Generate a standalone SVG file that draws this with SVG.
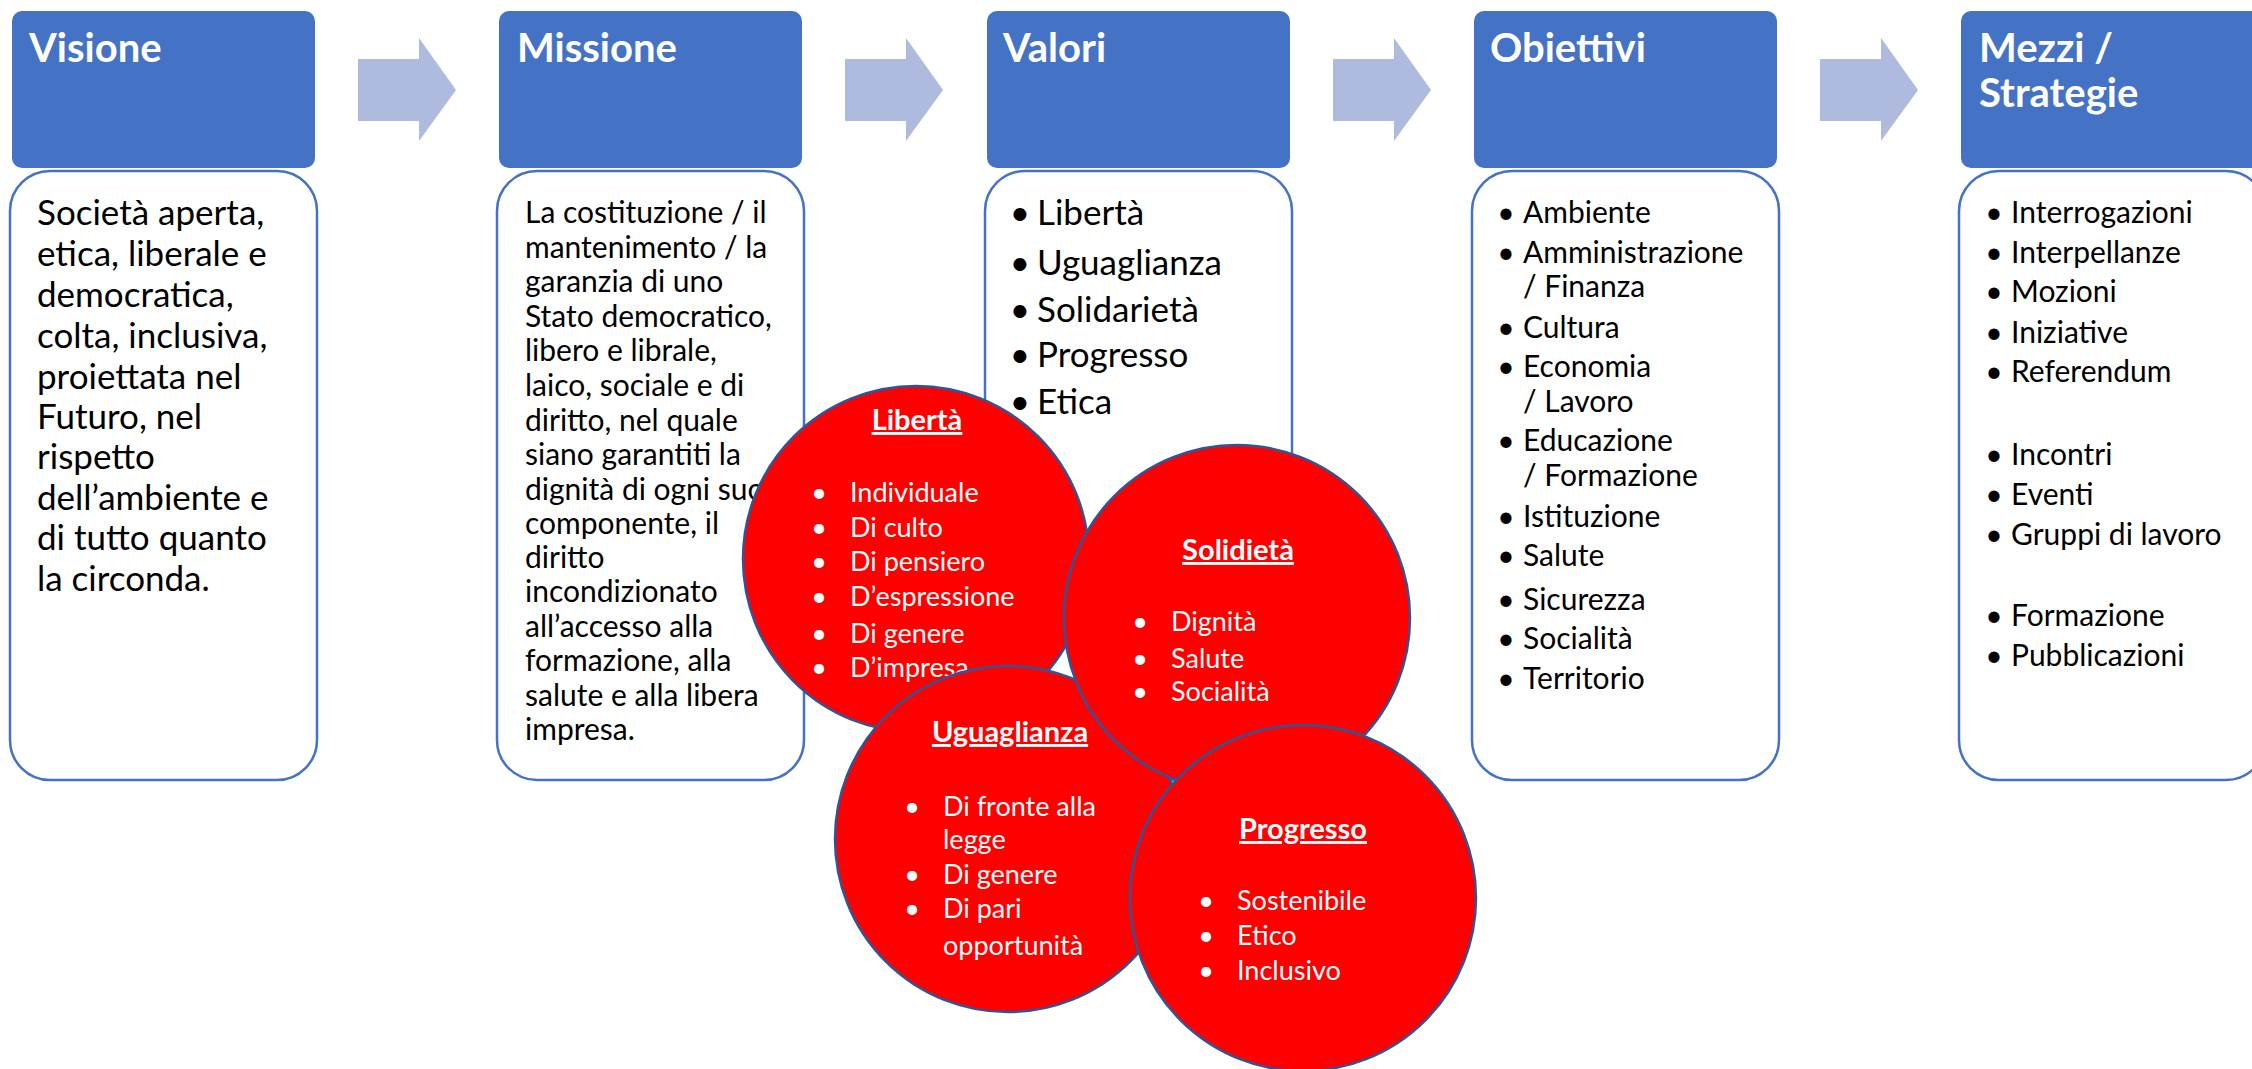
<svg xmlns="http://www.w3.org/2000/svg" width="2252" height="1069" viewBox="0 0 2252 1069">
<style>
text{font-family:Lato,"Open Sans","Liberation Sans",sans-serif}
.hdr{fill:#4472C4}
.body{fill:#fff;stroke:#4472C4;stroke-width:2.5}
.ttl{font-weight:bold;font-size:40px;fill:#fff}
.tv{font-size:35px;fill:#000}
.tm{font-size:30px;fill:#000}
.tb{font-size:35px;fill:#000}
.to{font-size:30px;fill:#000}
.bul{text-anchor:middle}
.arr{fill:#AEBADE}
.circ{fill:#FF0000;stroke:#2F5597;stroke-width:2.5}
.ch{font-weight:bold;font-size:29px;fill:#fff;text-anchor:middle;text-decoration:underline}
.cl{font-size:27px;fill:#fff}
</style>
<defs>
<path id="arrowShape" d="M0,0 H61 V-21 L98,31 L61,82 V62 H0 Z"/>
</defs>

<g id="visione">
<rect class="hdr" x="12" y="11" width="303" height="157" rx="10"/>
<text class="ttl" x="29" y="62">Visione</text>
<rect class="body" x="10" y="171" width="307" height="609" rx="40"/>
<g class="tv">
<text x="37" y="225">Società aperta,</text>
<text x="37" y="266">etica, liberale e</text>
<text x="37" y="307">democratica,</text>
<text x="37" y="348">colta, inclusiva,</text>
<text x="37" y="389">proiettata nel</text>
<text x="37" y="429">Futuro, nel</text>
<text x="37" y="469">rispetto</text>
<text x="37" y="510">dell’ambiente e</text>
<text x="37" y="550">di tutto quanto</text>
<text x="37" y="591">la circonda.</text>
</g>
</g>

<g id="missione">
<rect class="hdr" x="499" y="11" width="303" height="157" rx="10"/>
<text class="ttl" x="517" y="62">Missione</text>
<rect class="body" x="497" y="171" width="307" height="609" rx="40"/>
<g class="tm">
<text x="525" y="223">La costituzione / il</text>
<text x="525" y="258">mantenimento / la</text>
<text x="525" y="292">garanzia di uno</text>
<text x="525" y="327">Stato democratico,</text>
<text x="525" y="361">libero e librale,</text>
<text x="525" y="396">laico, sociale e di</text>
<text x="525" y="431">diritto, nel quale</text>
<text x="525" y="465">siano garantiti la</text>
<text x="525" y="500">dignità di ogni suo</text>
<text x="525" y="534">componente, il</text>
<text x="525" y="568">diritto</text>
<text x="525" y="602">incondizionato</text>
<text x="525" y="637">all’accesso alla</text>
<text x="525" y="671">formazione, alla</text>
<text x="525" y="706">salute e alla libera</text>
<text x="525" y="740">impresa.</text>
</g>
</g>

<g id="valori">
<rect class="hdr" x="987" y="11" width="303" height="157" rx="10"/>
<text class="ttl" x="1003" y="62">Valori</text>
<rect class="body" x="985" y="171" width="307" height="609" rx="40"/>
<g class="tb">
<text class="bul" x="1020" y="225">•</text><text x="1037" y="225">Libertà</text>
<text class="bul" x="1020" y="275">•</text><text x="1037" y="275">Uguaglianza</text>
<text class="bul" x="1020" y="322">•</text><text x="1037" y="322">Solidarietà</text>
<text class="bul" x="1020" y="367">•</text><text x="1037" y="367">Progresso</text>
<text class="bul" x="1020" y="414">•</text><text x="1037" y="414">Etica</text>
</g>
</g>

<g id="obiettivi">
<rect class="hdr" x="1474" y="11" width="303" height="157" rx="10"/>
<text class="ttl" x="1490" y="62">Obiettivi</text>
<rect class="body" x="1472" y="171" width="307" height="609" rx="40"/>
<g class="to">
<text class="bul" x="1506" y="223">•</text><text x="1523" y="223">Ambiente</text>
<text class="bul" x="1506" y="263">•</text><text x="1523" y="263">Amministrazione</text>
<text x="1523" y="297">/ Finanza</text>
<text class="bul" x="1506" y="338">•</text><text x="1523" y="338">Cultura</text>
<text class="bul" x="1506" y="377">•</text><text x="1523" y="377">Economia</text>
<text x="1523" y="412">/ Lavoro</text>
<text class="bul" x="1506" y="451">•</text><text x="1523" y="451">Educazione</text>
<text x="1523" y="486">/ Formazione</text>
<text class="bul" x="1506" y="527">•</text><text x="1523" y="527">Istituzione</text>
<text class="bul" x="1506" y="566">•</text><text x="1523" y="566">Salute</text>
<text class="bul" x="1506" y="610">•</text><text x="1523" y="610">Sicurezza</text>
<text class="bul" x="1506" y="649">•</text><text x="1523" y="649">Socialità</text>
<text class="bul" x="1506" y="689">•</text><text x="1523" y="689">Territorio</text>
</g>
</g>

<g id="mezzi">
<rect class="hdr" x="1961" y="11" width="303" height="157" rx="10"/>
<text class="ttl" x="1979" y="62">Mezzi /</text>
<text class="ttl" x="1979" y="107">Strategie</text>
<rect class="body" x="1959" y="171" width="307" height="609" rx="40"/>
<g class="to">
<text class="bul" x="1994" y="223">•</text><text x="2011" y="223">Interrogazioni</text>
<text class="bul" x="1994" y="263">•</text><text x="2011" y="263">Interpellanze</text>
<text class="bul" x="1994" y="302">•</text><text x="2011" y="302">Mozioni</text>
<text class="bul" x="1994" y="343">•</text><text x="2011" y="343">Iniziative</text>
<text class="bul" x="1994" y="382">•</text><text x="2011" y="382">Referendum</text>
<text class="bul" x="1994" y="465">•</text><text x="2011" y="465">Incontri</text>
<text class="bul" x="1994" y="505">•</text><text x="2011" y="505">Eventi</text>
<text class="bul" x="1994" y="545">•</text><text x="2011" y="545">Gruppi di lavoro</text>
<text class="bul" x="1994" y="626">•</text><text x="2011" y="626">Formazione</text>
<text class="bul" x="1994" y="666">•</text><text x="2011" y="666">Pubblicazioni</text>
</g>
</g>

<g id="connectors">
<use href="#arrowShape" class="arr" x="358" y="59"/>
<use href="#arrowShape" class="arr" x="845" y="59"/>
<use href="#arrowShape" class="arr" x="1333" y="59"/>
<use href="#arrowShape" class="arr" x="1820" y="59"/>
</g>

<g id="c-liberta">
<circle class="circ" cx="916" cy="559" r="173"/>
<text class="ch" x="917" y="430">Libertà</text>
<g class="cl">
<text class="bul" x="819" y="502">•</text><text x="850" y="502">Individuale</text>
<text class="bul" x="819" y="537">•</text><text x="850" y="537">Di culto</text>
<text class="bul" x="819" y="571">•</text><text x="850" y="571">Di pensiero</text>
<text class="bul" x="819" y="606">•</text><text x="850" y="606">D’espressione</text>
<text class="bul" x="819" y="643">•</text><text x="850" y="643">Di genere</text>
<text class="bul" x="819" y="677">•</text><text x="850" y="677">D’impresa</text>
</g>
</g>

<g id="c-uguaglianza">
<circle class="circ" cx="1008" cy="839" r="173"/>
<text class="ch" x="1010" y="742">Uguaglianza</text>
<g class="cl">
<text class="bul" x="912" y="816">•</text><text x="943" y="816">Di fronte alla</text>
<text x="943" y="849">legge</text>
<text class="bul" x="912" y="884">•</text><text x="943" y="884">Di genere</text>
<text class="bul" x="912" y="918">•</text><text x="943" y="918">Di pari</text>
<text x="943" y="955">opportunità</text>
</g>
</g>

<g id="c-solidieta">
<circle class="circ" cx="1237" cy="618" r="173"/>
<text class="ch" x="1238" y="560">Solidietà</text>
<g class="cl">
<text class="bul" x="1140" y="631">•</text><text x="1171" y="631">Dignità</text>
<text class="bul" x="1140" y="668">•</text><text x="1171" y="668">Salute</text>
<text class="bul" x="1140" y="701">•</text><text x="1171" y="701">Socialità</text>
</g>
</g>

<g id="c-progresso">
<circle class="circ" cx="1303" cy="898" r="173"/>
<text class="ch" x="1303" y="839">Progresso</text>
<g class="cl">
<text class="bul" x="1206" y="910">•</text><text x="1237" y="910">Sostenibile</text>
<text class="bul" x="1206" y="945">•</text><text x="1237" y="945">Etico</text>
<text class="bul" x="1206" y="980">•</text><text x="1237" y="980">Inclusivo</text>
</g>
</g>
</svg>
